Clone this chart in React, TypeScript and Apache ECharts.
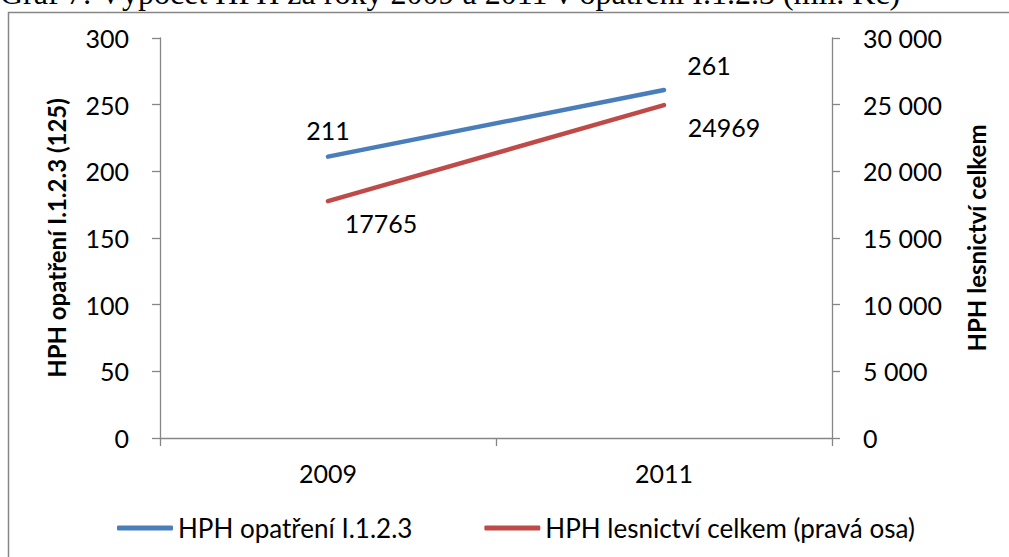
import React, { useEffect, useRef } from "react";
import * as echarts from "echarts";

const categories = ["2009", "2011"];
const opatreniValues = [211, 261];
const lesnictviValues = [17765, 24969];
const seriesNames = ["HPH opatření I.1.2.3", "HPH lesnictví celkem (pravá osa)"];
const leftAxisName = "HPH opatření I.1.2.3 (125)";
const rightAxisName = "HPH lesnictví celkem";
const titleText = "Graf 7: Výpočet HPH za roky 2009 a 2011 v opatření I.1.2.3 (mil. Kč)";

const opatreniLabelOffsets = [[0, -27], [45, -25]];
const lesnictviLabelOffsets = [[53, 22], [60, 22]];

const FONT = "Lato";
const AXIS_GRAY = "#868686";

function fmtThousands(v: number): string {
  const s = String(Math.round(v));
  return s.replace(/\B(?=(\d{3})+(?!\d))/g, "\u00a0");
}

export default function App() {
  const ref = useRef<HTMLDivElement>(null);
  useEffect(() => {
    if (!ref.current) return;
    const chart = echarts.init(ref.current, null, { renderer: "svg" });
    const labelBase = {
      show: true,
      position: "inside",
      fontFamily: FONT,
      fontSize: 25,
      color: "#000",
    };
    chart.setOption({
      animation: false,
      backgroundColor: "#ffffff",
      textStyle: { fontFamily: FONT },
      graphic: [
        {
          type: "rect",
          shape: { x: 8.5, y: 12.5, width: 1020, height: 560 },
          style: { fill: "none", stroke: AXIS_GRAY, lineWidth: 1.5 },
          silent: true,
        },
        {
          type: "text",
          x: 0,
          y: 8.5,
          style: {
            text: titleText,
            fontFamily: "Liberation Serif",
            fontSize: 32,
            fill: "#000",
            textVerticalAlign: "bottom",
            verticalAlign: "bottom",
          },
          silent: true,
        },
      ],
      grid: { left: 160, right: 177, top: 38, bottom: 119, containLabel: false },
      legend: {
        left: 112,
        top: 510,
        itemWidth: 56,
        itemHeight: 5,
        itemGap: 72,
        icon: "roundRect",
        textStyle: { fontFamily: FONT, fontSize: 26, color: "#000" },
        data: seriesNames,
      },
      xAxis: {
        type: "category",
        data: categories,
        boundaryGap: true,
        axisLine: { lineStyle: { color: AXIS_GRAY, width: 1.3 } },
        axisTick: { show: true, length: 8, lineStyle: { color: AXIS_GRAY, width: 1.3 } },
        axisLabel: { fontFamily: FONT, fontSize: 25, color: "#000", margin: 22 },
        splitLine: { show: false },
      },
      yAxis: [
        {
          type: "value",
          min: 0,
          max: 300,
          interval: 50,
          position: "left",
          name: leftAxisName,
          nameLocation: "middle",
          nameGap: 92,
          nameRotate: 90,
          nameTextStyle: { fontFamily: FONT, fontSize: 24, fontWeight: "bold", color: "#000" },
          axisLine: { show: true, lineStyle: { color: AXIS_GRAY, width: 1.3 } },
          axisTick: { show: true, length: 8, lineStyle: { color: AXIS_GRAY, width: 1.3 } },
          axisLabel: { fontFamily: FONT, fontSize: 25, color: "#000", margin: 31 },
          splitLine: { show: false },
        },
        {
          type: "value",
          min: 0,
          max: 30000,
          interval: 5000,
          position: "right",
          name: rightAxisName,
          nameLocation: "middle",
          nameGap: 132,
          nameRotate: 90,
          nameTextStyle: { fontFamily: FONT, fontSize: 24, fontWeight: "bold", color: "#000" },
          axisLine: { show: true, lineStyle: { color: AXIS_GRAY, width: 1.3 } },
          axisTick: { show: true, length: 8, lineStyle: { color: AXIS_GRAY, width: 1.3 } },
          axisLabel: {
            fontFamily: FONT,
            fontSize: 25,
            color: "#000",
            margin: 31,
            formatter: (v: number) => fmtThousands(v),
          },
          splitLine: { show: false },
        },
      ],
      series: [
        {
          name: seriesNames[0],
          type: "line",
          yAxisIndex: 0,
          symbol: "circle",
          symbolSize: 1,
          showSymbol: true,
          color: "#4a7ebb",
          lineStyle: { color: "#4a7ebb", width: 4.5, cap: "round" },
          itemStyle: { color: "#4a7ebb" },
          data: opatreniValues.map((v, i) => ({
            value: v,
            label: { ...labelBase, offset: opatreniLabelOffsets[i] },
          })),
        },
        {
          name: seriesNames[1],
          type: "line",
          yAxisIndex: 1,
          symbol: "circle",
          symbolSize: 1,
          showSymbol: true,
          color: "#be4b48",
          lineStyle: { color: "#be4b48", width: 4.5, cap: "round" },
          itemStyle: { color: "#be4b48" },
          data: lesnictviValues.map((v, i) => ({
            value: v,
            label: { ...labelBase, offset: lesnictviLabelOffsets[i] },
          })),
        },
      ],
    });
    return () => chart.dispose();
  }, []);
  return (
    <div
      ref={ref}
      style={{ position: "fixed", left: 0, top: 0, width: 1009, height: 557, background: "#fff" }}
    />
  );
}
